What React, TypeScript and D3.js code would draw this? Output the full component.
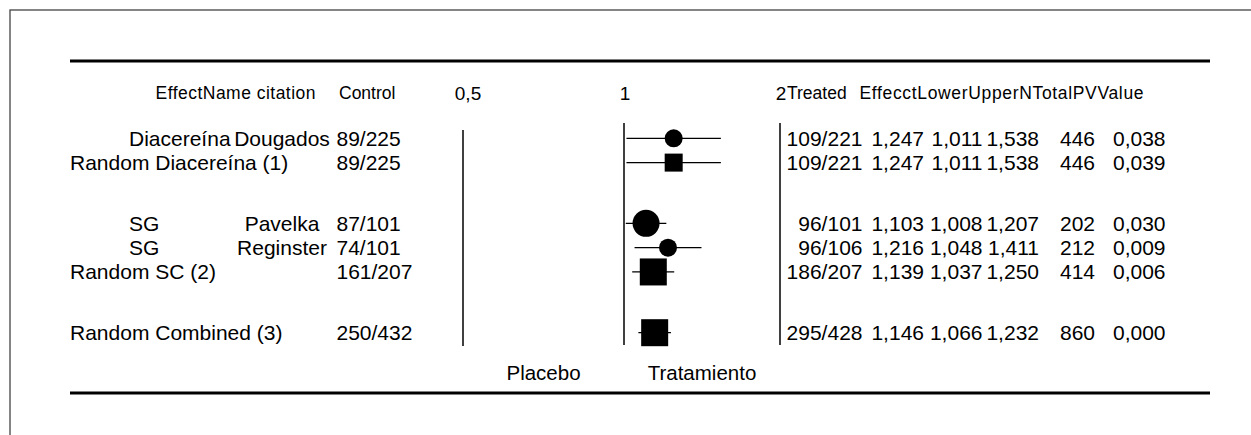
import { useEffect, useRef } from "react";
import * as d3 from "d3";

// table rows, top to bottom
const effectNames = ["Diacereína", "Random Diacereína (1)", "SG", "SG", "Random SC (2)", "Random Combined (3)"];
const citations = ["Dougados", "", "Pavelka", "Reginster", "", ""];
const controlCounts = ["89/225", "89/225", "87/101", "74/101", "161/207", "250/432"];
const treatedCounts = ["109/221", "109/221", "96/101", "96/106", "186/207", "295/428"];
const effects = [1.247, 1.247, 1.103, 1.216, 1.139, 1.146];
const lowers = [1.011, 1.011, 1.008, 1.048, 1.037, 1.066];
const uppers = [1.538, 1.538, 1.207, 1.411, 1.25, 1.232];
const nTotals = [446, 446, 202, 212, 414, 860];
const pValues = [0.038, 0.039, 0.03, 0.009, 0.006, 0.0];
const weights = [2, 2, 3, 2, 3, 3];
const isPooled = [false, true, false, false, true, true];

const axisTicks = [0.5, 1, 2];
const tickLabels = ["0,5", "1", "2"];
const sideLabels = ["Placebo", "Tratamiento"];
const sideValues = [Math.SQRT1_2, Math.SQRT2];

// vertical slots (gaps between groups)
const rowSlots = [0, 1, 3.5, 4.5, 5.5, 8];

const FONT = "'Liberation Sans', Arial, Helvetica, sans-serif";

const locale = d3.formatLocale({
  decimal: ",",
  thousands: ".",
  grouping: [3],
  currency: ["", ""],
});
const f3 = locale.format(".3f");

export default function App() {
  const svgRef = useRef<SVGSVGElement>(null);

  useEffect(() => {
    if (!svgRef.current) return;
    const svg = d3.select(svgRef.current);
    svg.selectAll("*").remove();

    const rows = effectNames.map((name, i) => ({
      name,
      citation: citations[i],
      control: controlCounts[i],
      treated: treatedCounts[i],
      effect: effects[i],
      lower: lowers[i],
      upper: uppers[i],
      n: nTotals[i],
      p: pValues[i],
      w: weights[i],
      pooled: isPooled[i],
      slot: rowSlots[i],
    }));

    const x = d3.scaleLog().domain([0.5, 1, 2]).range([463, 624, 780]);
    const y = d3.scaleLinear().domain([0, 8]).range([138.3, 332.7]);
    const size = d3.scaleLinear().domain([0, 3]).range([0, 27]);

    // frame
    svg
      .append("rect")
      .attr("x", 10)
      .attr("y", 10)
      .attr("width", 1400)
      .attr("height", 600)
      .attr("fill", "none")
      .attr("stroke", "#444")
      .attr("stroke-width", 1.3);

    // rules
    [61, 393].forEach((yy) => {
      svg
        .append("line")
        .attr("x1", 70)
        .attr("x2", 1210)
        .attr("y1", yy)
        .attr("y2", yy)
        .attr("stroke", "#000")
        .attr("stroke-width", 3);
    });

    const header = svg
      .append("g")
      .style("font-family", FONT)
      .style("font-size", "17.5px")
      .attr("fill", "#000");

    header
      .append("text")
      .attr("x", 155.5)
      .attr("y", 99)
      .attr("textLength", 160)
      .text("EffectName citation");
    header.append("text").attr("x", 339).attr("y", 99).text("Control");

    header
      .selectAll(".tick-label")
      .data(axisTicks)
      .enter()
      .append("text")
      .attr("class", "tick-label")
      .attr("x", (d) => x(d) + (d === 0.5 ? 5 : 1))
      .attr("y", 100)
      .attr("text-anchor", "middle")
      .style("font-size", "19px")
      .text((_, i) => tickLabels[i]);

    header.append("text").attr("x", 787).attr("y", 99).text("Treated");
    header
      .append("text")
      .attr("x", 859.5)
      .attr("y", 99)
      .attr("textLength", 284)
      .text("EffecctLowerUpperNTotalPVValue");

    // reference lines at 0,5 / 1 / 2
    svg
      .selectAll(".ref")
      .data(axisTicks)
      .enter()
      .append("line")
      .attr("class", "ref")
      .attr("x1", (d) => x(d))
      .attr("x2", (d) => x(d))
      .attr("y1", (d) => (d === 0.5 ? 130 : 123))
      .attr("y2", (d) => (d === 0.5 ? 346 : 345))
      .attr("stroke", "#000")
      .attr("stroke-width", 1.5);

    // confidence intervals
    svg
      .selectAll(".ci")
      .data(rows)
      .enter()
      .append("line")
      .attr("class", "ci")
      .attr("x1", (d) => x(d.lower))
      .attr("x2", (d) => x(d.upper))
      .attr("y1", (d) => y(d.slot))
      .attr("y2", (d) => y(d.slot))
      .attr("stroke", "#000")
      .attr("stroke-width", 1.3);

    // markers
    svg
      .selectAll(".study")
      .data(rows.filter((d) => !d.pooled))
      .enter()
      .append("circle")
      .attr("class", "study")
      .attr("cx", (d) => x(d.effect))
      .attr("cy", (d) => y(d.slot))
      .attr("r", (d) => size(d.w) / 2)
      .attr("fill", "#000");

    svg
      .selectAll(".pooled")
      .data(rows.filter((d) => d.pooled))
      .enter()
      .append("rect")
      .attr("class", "pooled")
      .attr("x", (d) => x(d.effect) - size(d.w) / 2)
      .attr("y", (d) => y(d.slot) - size(d.w) / 2)
      .attr("width", (d) => size(d.w))
      .attr("height", (d) => size(d.w))
      .attr("fill", "#000");

    // table text
    const body = svg
      .append("g")
      .style("font-family", FONT)
      .style("font-size", "21px")
      .attr("fill", "#000");

    const cols: {
      x: number;
      anchor: string;
      text: (d: (typeof rows)[number]) => string;
    }[] = [
      { x: 0, anchor: "start", text: (d) => d.name },
      { x: 282, anchor: "middle", text: (d) => d.citation },
      { x: 336.5, anchor: "start", text: (d) => d.control },
      { x: 862.5, anchor: "end", text: (d) => d.treated },
      { x: 924, anchor: "end", text: (d) => f3(d.effect) },
      { x: 982.5, anchor: "end", text: (d) => f3(d.lower) },
      { x: 1039, anchor: "end", text: (d) => f3(d.upper) },
      { x: 1095, anchor: "end", text: (d) => String(d.n) },
      { x: 1113, anchor: "start", text: (d) => f3(d.p) },
    ];

    cols.forEach((c, ci) => {
      body
        .selectAll(`.col-${ci}`)
        .data(rows)
        .enter()
        .append("text")
        .attr("class", `col-${ci}`)
        .attr("x", (d) => (ci === 0 ? (d.citation ? 129 : 70) : c.x))
        .attr("y", (d) => y(d.slot))
        .attr("dy", "0.35em")
        .attr("text-anchor", c.anchor)
        .text(c.text);
    });

    // direction labels
    body
      .selectAll(".side")
      .data(sideValues)
      .enter()
      .append("text")
      .attr("class", "side")
      .attr("x", (d) => x(d))
      .attr("y", 380)
      .attr("text-anchor", "middle")
      .style("font-size", "20.5px")
      .text((_, i) => sideLabels[i]);
  }, []);

  return (
    <svg
      ref={svgRef}
      width={1251}
      height={435}
      style={{ position: "absolute", left: 0, top: 0, background: "#fff" }}
    />
  );
}
